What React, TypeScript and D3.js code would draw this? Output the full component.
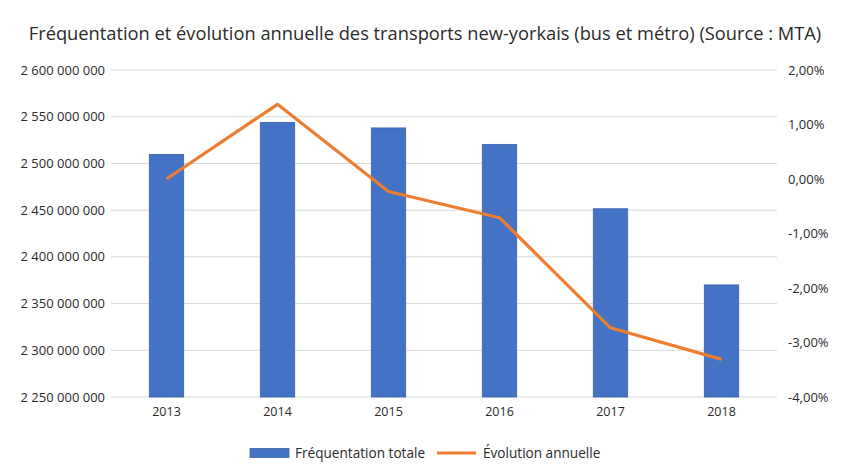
import { useEffect, useRef } from 'react';
import * as d3 from 'd3';

const years = ['2013', '2014', '2015', '2016', '2017', '2018'];
const ridership = [2509700000, 2544000000, 2538000000, 2520400000, 2451500000, 2370000000];
const evolution = [0.0, 1.37, -0.23, -0.71, -2.73, -3.31];
const leftTicks = [2250000000, 2300000000, 2350000000, 2400000000, 2450000000, 2500000000, 2550000000, 2600000000];
const rightTicks = [-4, -3, -2, -1, 0, 1, 2];

const BLUE = '#4472C4';
const ORANGE = '#ED7D31';
const FONT = '"Open Sans", "Noto Sans", sans-serif';

const fmtBig = (v: number) => d3.format(',')(v).replace(/,/g, ' ');
const fmtPct = (v: number) => v.toFixed(2).replace('.', ',') + '%';

export default function App() {
	const svgRef = useRef<SVGSVGElement>(null);

	useEffect(() => {
		const width = 850;
		const height = 467;
		const margin = { top: 70, right: 73, bottom: 70, left: 111 };
		const innerW = width - margin.left - margin.right;
		const innerH = height - margin.top - margin.bottom;

		const svg = d3.select(svgRef.current);
		svg.selectAll('*').remove();

		svg.append('rect').attr('width', width).attr('height', height).attr('fill', '#fff');

		svg.append('text')
			.attr('x', width / 2)
			.attr('y', 40)
			.attr('text-anchor', 'middle')
			.attr('font-family', FONT)
			.attr('font-size', 18.3)
			.attr('fill', '#2b2b2b')
			.text('Fréquentation et évolution annuelle des transports new-yorkais (bus et métro) (Source : MTA)');

		const g = svg.append('g').attr('transform', `translate(${margin.left}, ${margin.top})`);

		const x = d3.scaleBand().domain(years).range([0, innerW]);
		const yL = d3.scaleLinear().domain([2250000000, 2600000000]).range([innerH, 0]);
		const yR = d3.scaleLinear().domain([-4, 2]).range([innerH, 0]);

		// gridlines
		g.selectAll('line.grid')
			.data(leftTicks)
			.join('line')
			.attr('class', 'grid')
			.attr('x1', 0)
			.attr('x2', innerW)
			.attr('y1', d => yL(d))
			.attr('y2', d => yL(d))
			.attr('stroke', '#d9d9d9')
			.attr('stroke-width', 1);

		// left axis labels
		g.selectAll('text.yl')
			.data(leftTicks)
			.join('text')
			.attr('class', 'yl')
			.attr('x', -6)
			.attr('y', d => yL(d))
			.attr('dy', '0.35em')
			.attr('text-anchor', 'end')
			.attr('font-family', FONT)
			.attr('font-size', 13)
			.attr('fill', '#2b2b2b')
			.text(d => fmtBig(d));

		// right axis labels
		g.selectAll('text.yr')
			.data(rightTicks)
			.join('text')
			.attr('class', 'yr')
			.attr('x', innerW + 11)
			.attr('y', d => yR(d))
			.attr('dy', '0.35em')
			.attr('font-family', FONT)
			.attr('font-size', 13)
			.attr('fill', '#2b2b2b')
			.text(d => fmtPct(d));

		// x labels
		g.selectAll('text.xl')
			.data(years)
			.join('text')
			.attr('class', 'xl')
			.attr('x', d => x(d)! + x.bandwidth() / 2)
			.attr('y', innerH + 19)
			.attr('text-anchor', 'middle')
			.attr('font-family', FONT)
			.attr('font-size', 12.5)
			.attr('fill', '#2b2b2b')
			.text(d => d);

		// bars
		const barW = x.bandwidth() * 0.31;
		g.selectAll('rect.bar')
			.data(years)
			.join('rect')
			.attr('class', 'bar')
			.attr('x', d => x(d)! + x.bandwidth() / 2 - barW / 2)
			.attr('y', (_, i) => yL(ridership[i]))
			.attr('width', barW)
			.attr('height', (_, i) => innerH - yL(ridership[i]))
			.attr('fill', BLUE)
			.attr('stroke', '#3e64ad')
			.attr('stroke-width', 0.8);

		// line
		const line = d3.line<number>()
			.x((_, i) => x(years[i])! + x.bandwidth() / 2)
			.y(d => yR(d));
		g.append('path')
			.datum(evolution)
			.attr('d', line)
			.attr('fill', 'none')
			.attr('stroke', ORANGE)
			.attr('stroke-width', 3.2)
			.attr('stroke-linejoin', 'round');

		// legend
		const leg = svg.append('g').attr('transform', 'translate(250, 453)');
		leg.append('rect')
			.attr('x', 0).attr('y', -4.5)
			.attr('width', 39).attr('height', 9)
			.attr('fill', BLUE).attr('stroke', '#3e64ad').attr('stroke-width', 0.8);
		leg.append('text')
			.attr('x', 45).attr('y', 0).attr('dy', '0.35em')
			.attr('font-family', FONT).attr('font-size', 13.6).attr('fill', '#2b2b2b')
			.text('Fréquentation totale');
		leg.append('line')
			.attr('x1', 187).attr('x2', 226)
			.attr('y1', 0).attr('y2', 0)
			.attr('stroke', ORANGE).attr('stroke-width', 3.2);
		leg.append('text')
			.attr('x', 233).attr('y', 0).attr('dy', '0.35em')
			.attr('font-family', FONT).attr('font-size', 13.6).attr('fill', '#2b2b2b')
			.text('Évolution annuelle');
	}, []);

	return (
		<svg
			ref={svgRef}
			width={850}
			height={467}
			style={{ position: 'absolute', top: 0, left: 0, display: 'block' }}
		/>
	);
}
